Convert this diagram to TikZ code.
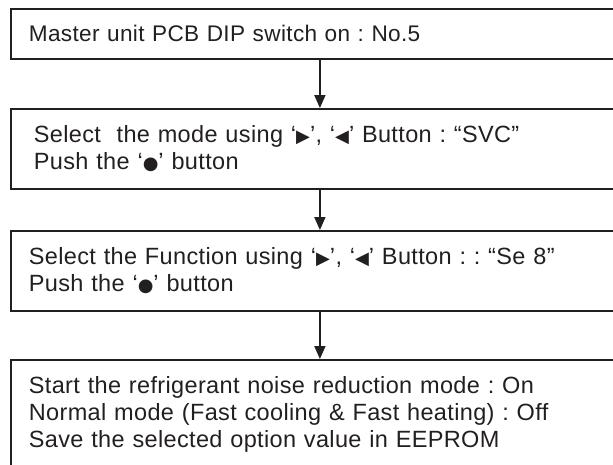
\documentclass[tikz,border=0pt]{standalone}
\usepackage{fontspec}
\setmainfont{Liberation Sans}[LetterSpace=1.5]
\newfontfamily\symfont{DejaVu Sans}
\usetikzlibrary{arrows.meta}
\definecolor{ink}{HTML}{231F20}
\newcommand{\btn}[1]{{\symfont\fontsize{18}{18}\selectfont #1}}
\frenchspacing

\begin{document}
\begin{tikzpicture}[x=1pt,y=-1pt]
		\tikzset{stepbox/.style={draw=ink,line width=1.8pt,anchor=north west,minimum width=618pt,inner ysep=0pt,inner xsep=18pt,text width=582pt,align=left,text=ink,font=\fontsize{23.5}{27}\selectfont},
			downarrow/.style={draw=ink,line width=1.8pt,-{Triangle[width=11pt,length=13pt]}}};
		\useasboundingbox (0,0) rectangle (613,464);
		\clip (0,0) rectangle (613,464);
		\node[stepbox,minimum height=50pt,font=\fontsize{22.6}{27}\selectfont] (b1) at (10,8) {Master unit PCB DIP switch on : No.5};
		\node[stepbox,minimum height=80pt,inner xsep=23pt,text width=572pt] (b2) at (10,108) {Select~ the mode using ‘\btn{▶}’, ‘\btn{◀}’ Button : “SVC”\\Push the ‘\btn{●}’ button};
		\node[stepbox,minimum height=80pt] (b3) at (10,230) {Select the Function using ‘\btn{▶}’, ‘\btn{◀}’ Button : : “Se 8”\\Push the ‘\btn{●}’ button};
		\node[stepbox,minimum height=110pt] (b4) at (10,359) {Start the refrigerant noise reduction mode : On\\Normal mode (Fast cooling \& Fast heating) : Off\\Save the selected option value in EEPROM};
		\draw[downarrow] (b1.south) -- (b2.north);
		\draw[downarrow] (b2.south) -- (b3.north);
		\draw[downarrow] (b3.south) -- (b4.north);
	\end{tikzpicture}
\end{document}
